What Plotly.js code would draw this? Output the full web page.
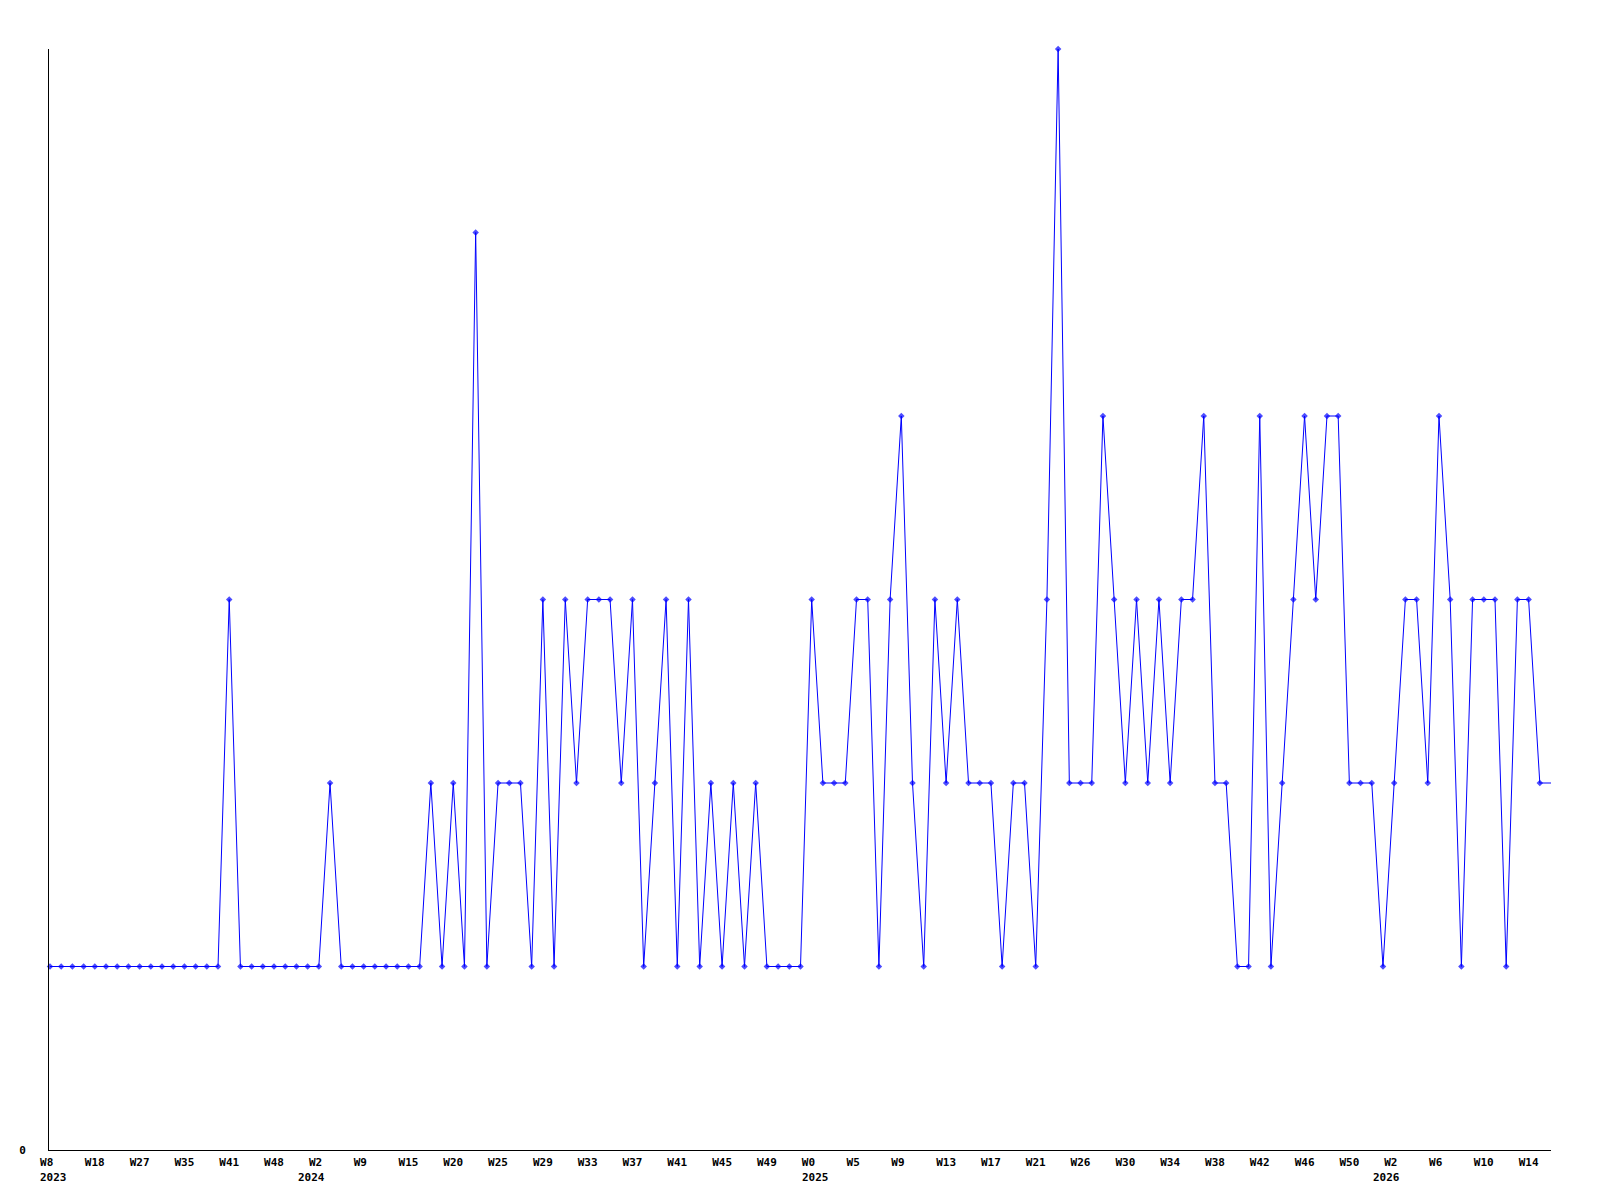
<!DOCTYPE html>
<html>
<head>
<meta charset="utf-8">
<script src="https://cdn.plot.ly/plotly-3.0.1.min.js"></script>
<style>html,body{margin:0;padding:0;background:#fff;}#chart{width:1600px;height:1200px;}</style>
</head>
<body>
<div id="chart"></div>
<script>
// Series values (one per weekly point, left to right)
const values = [
  1,1,1,1,1,1,1,1,1,1,1,1,1,1,1,1,
  3,
  1,1,1,1,1,1,1,1,
  2,
  1,1,1,1,1,1,1,1,
  2,1,2,1,5,1,2,2,2,1,
  3,1,3,2,3,3,3,2,3,1,2,3,1,3,1,2,1,2,1,2,1,1,1,1,
  3,2,2,2,3,3,1,3,4,2,1,3,2,3,2,2,2,
  1,2,2,1,3,6,2,2,2,4,3,2,3,2,3,2,3,3,4,2,2,1,1,4,1,2,3,4,3,4,4,2,2,2,
  1,2,3,3,2,4,3,1,3,3,3,1,3,3,2,
  2
];
// Tick labels (every 4th point)
const tickWeeks = ['W8','W18','W27','W35','W41','W48','W2','W9','W15','W20','W25','W29',
  'W33','W37','W41','W45','W49','W0','W5','W9','W13','W17','W21','W26','W30','W34',
  'W38','W42','W46','W50','W2','W6','W10','W14'];
const tickStep = 4;
// Year labels and the point index where each year begins
const yearLabels = ['2023','2024','2025','2026'];
const yearIdx = [0, 23, 68, 119];

const xs = values.map((_, i) => i);
const tickVals = tickWeeks.map((_, k) => k * tickStep);
const tickText = tickWeeks.map(t => t.length < 3 ? t + '\u00A0' : t);
const markerSizes = values.map((_, i) => i === values.length - 1 ? 0 : 5);

const font = {family: '"DejaVu Sans Mono", "Liberation Mono", monospace', size: 11, color: '#000'};

const trace = {
  x: xs, y: values, type: 'scatter', mode: 'lines+markers',
  line: {color: '#0000ff', width: 1},
  marker: {color: '#0000ff', symbol: 'diamond', size: markerSizes, line: {width: 0}},
  cliponaxis: false, hoverinfo: 'skip'
};

const annotations = yearLabels.map((t, k) => ({
  text: '<b>' + t + '</b>', x: yearIdx[k], xref: 'x', y: 0, yref: 'paper',
  xanchor: 'left', yanchor: 'top', xshift: -12, yshift: -19, showarrow: false, font: font
}));

const layout = {
  width: 1600, height: 1200,
  margin: {l: 49, r: 49, t: 49, b: 50},
  paper_bgcolor: '#fff', plot_bgcolor: '#fff',
  showlegend: false,
  font: font,
  xaxis: {
    range: [-1/11.2, values.length - 1], showgrid: false, zeroline: false,
    showline: true, linecolor: '#000', linewidth: 1,
    tickmode: 'array', tickvals: tickVals, ticktext: tickText.map(t => '<b>' + t + '</b>'),
    ticks: '', tickfont: font, ticklabelstandoff: 2
  },
  yaxis: {
    range: [0, 6], showgrid: false, zeroline: false,
    showline: true, linecolor: '#000', linewidth: 1,
    tickmode: 'array', tickvals: [0], ticktext: ['<b>0</b>'],
    ticks: '', tickfont: font, ticklabelstandoff: 20
  },
  annotations: annotations
};

Plotly.newPlot('chart', [trace], layout, {staticPlot: true, displayModeBar: false});
</script>
</body>
</html>
